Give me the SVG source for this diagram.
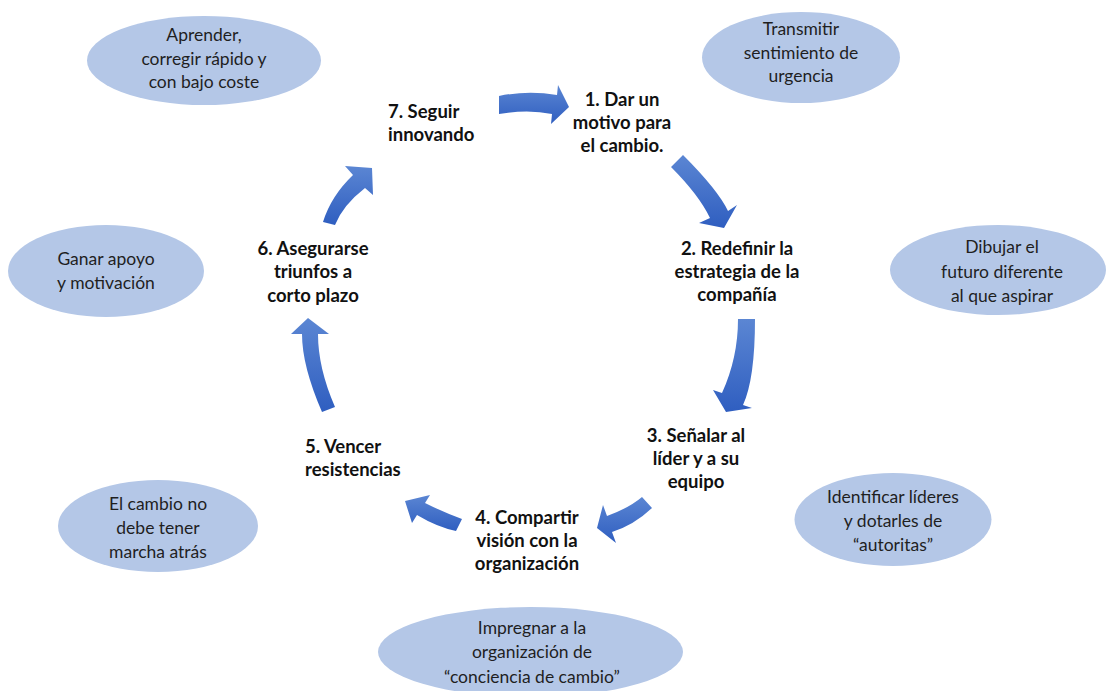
<svg xmlns="http://www.w3.org/2000/svg" width="1109" height="691" viewBox="0 0 1109 691">
  <defs>
    <linearGradient id="arrowFill" x1="0" y1="0" x2="0" y2="1">
      <stop offset="0" stop-color="#5B86D3"/>
      <stop offset="1" stop-color="#2F5EC0"/>
    </linearGradient>
    <style>
      .bubble { fill: #B4C7E7; }
      .note { font-family: Lato, "Liberation Sans", sans-serif; font-size: 17.5px; fill: #1F1F1F; text-anchor: middle; }
      .step { font-family: Lato, "Liberation Sans", sans-serif; font-size: 18.5px; font-weight: bold; fill: #111111; text-anchor: middle; }
      .left { text-anchor: start; }
      .arrow { fill: url(#arrowFill); }
    </style>
  </defs>
  <rect width="1109" height="691" fill="#FFFFFF"/>

  <!-- curved cycle arrows -->
  <g id="connectors">
    <path class="arrow" d="M499,96 Q528,90 557,95 L558,85 L569,107 L551,124 L552,114 Q528,109 499,114 Z"/>
    <path class="arrow" d="M671,167 L683,155 Q718,190 728,211 L737,205 L724,228 L699,223 L710,218 Q699,195 671,167 Z"/>
    <path class="arrow" d="M738,319 L755,319 Q755,379 743,405 L752,408 L726,412 L713,390 L722,393 Q738,358 738,319 Z"/>
    <path class="arrow" d="M642,497 Q629,508 607,516 L603,505 L597,528 L616,543 L612,532 Q634,525 652,508 Z"/>
    <path class="arrow" d="M462,519 Q443,512 425,503 L430,495 L405,501 L412,523 L417,515 Q437,527 456,531 Z"/>
    <path class="arrow" d="M308,318 L329,334 L318,334 Q318,368 335,407 L322,412 Q302,366 302,334 L291,334 Z"/>
    <path class="arrow" d="M323,222 Q331,196 353,175 L345,166 L372,168 L373,195 L365,188 Q343,205 335,225 Z"/>
  </g>

  <!-- step labels -->
  <g id="step1">
    <text class="step" x="622" y="106">1. Dar un</text>
    <text class="step" x="622" y="129">motivo para</text>
    <text class="step" x="622" y="152">el cambio.</text>
  </g>
  <g id="step2">
    <text class="step" x="737" y="255">2. Redefinir la</text>
    <text class="step" x="737" y="278">estrategia de la</text>
    <text class="step" x="737" y="301">compañía</text>
  </g>
  <g id="step3">
    <text class="step" x="696" y="442">3. Señalar al</text>
    <text class="step" x="696" y="465">líder y a su</text>
    <text class="step" x="696" y="488">equipo</text>
  </g>
  <g id="step4">
    <text class="step" x="527" y="524">4. Compartir</text>
    <text class="step" x="527" y="547">visión con la</text>
    <text class="step" x="527" y="570">organización</text>
  </g>
  <g id="step5">
    <text class="step left" x="305" y="453">5. Vencer</text>
    <text class="step left" x="305" y="476">resistencias</text>
  </g>
  <g id="step6">
    <text class="step" x="313" y="255">6. Asegurarse</text>
    <text class="step" x="313" y="278">triunfos a</text>
    <text class="step" x="313" y="302">corto plazo</text>
  </g>
  <g id="step7">
    <text class="step left" x="388" y="118">7. Seguir</text>
    <text class="step left" x="388" y="141">innovando</text>
  </g>

  <!-- side notes -->
  <g id="note-aprender">
    <ellipse class="bubble" cx="204" cy="60.5" rx="117" ry="44.5"/>
    <text class="note" x="204" y="41">Aprender,</text>
    <text class="note" x="204" y="65">corregir rápido y</text>
    <text class="note" x="204" y="88">con bajo coste</text>
  </g>
  <g id="note-urgencia">
    <ellipse class="bubble" cx="801" cy="57.5" rx="99" ry="45.5"/>
    <text class="note" x="801" y="35">Transmitir</text>
    <text class="note" x="801" y="59">sentimiento de</text>
    <text class="note" x="801" y="82">urgencia</text>
  </g>
  <g id="note-futuro">
    <ellipse class="bubble" cx="998" cy="270" rx="108" ry="45"/>
    <text class="note" x="1002" y="253">Dibujar el</text>
    <text class="note" x="1002" y="278">futuro diferente</text>
    <text class="note" x="1002" y="302">al que aspirar</text>
  </g>
  <g id="note-apoyo">
    <ellipse class="bubble" cx="106" cy="271" rx="98" ry="46"/>
    <text class="note" x="106" y="265">Ganar apoyo</text>
    <text class="note" x="106" y="289">y motivación</text>
  </g>
  <g id="note-lideres">
    <ellipse class="bubble" cx="893" cy="519.5" rx="98.5" ry="46.5"/>
    <text class="note" x="893" y="503">Identificar líderes</text>
    <text class="note" x="893" y="527">y dotarles de</text>
    <text class="note" x="893" y="551">“autoritas”</text>
  </g>
  <g id="note-marcha">
    <ellipse class="bubble" cx="158" cy="526" rx="100" ry="46"/>
    <text class="note" x="158" y="510">El cambio no</text>
    <text class="note" x="158" y="534">debe tener</text>
    <text class="note" x="158" y="558">marcha atrás</text>
  </g>
  <g id="note-conciencia">
    <ellipse class="bubble" cx="530.5" cy="652" rx="152.5" ry="45"/>
    <text class="note" x="532" y="634">Impregnar a la</text>
    <text class="note" x="532" y="658">organización de</text>
    <text class="note" x="532" y="683">“conciencia de cambio”</text>
  </g>
</svg>
